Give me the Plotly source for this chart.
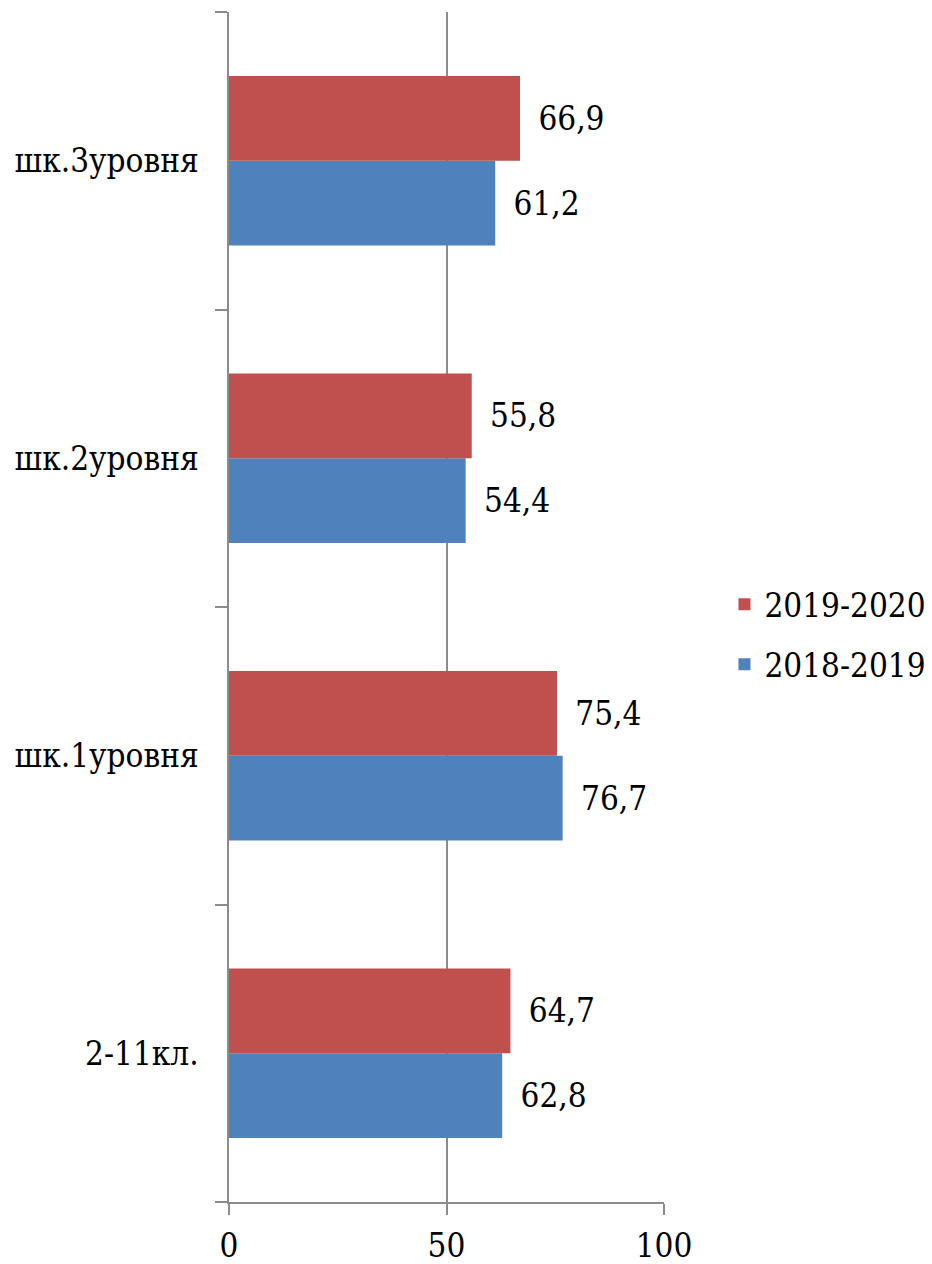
import plotly.graph_objects as go

categories = ["2-11кл.", "шк.1уровня", "шк.2уровня", "шк.3уровня"]
vals_2018_2019 = [62.8, 76.7, 54.4, 61.2]
vals_2019_2020 = [64.7, 75.4, 55.8, 66.9]
x_ticks = [0, 50, 100]

FONT = "DejaVu Serif Condensed"
FS = 33

fig = go.Figure()
fig.add_trace(go.Bar(
    y=categories, x=vals_2018_2019, orientation="h", name="2018-2019",
    legendgroup="g2", legendrank=2,
    marker=dict(color="#4F81BD", line=dict(width=0)),
    texttemplate=" \u2009%{x:.1f}", textposition="outside", cliponaxis=False,
    textfont=dict(family=FONT, size=FS, color="black"),
))
fig.add_trace(go.Bar(
    y=categories, x=vals_2019_2020, orientation="h", name="2019-2020",
    legendgroup="g1", legendrank=1,
    marker=dict(color="#C0504D", line=dict(width=0)),
    texttemplate=" \u2009%{x:.1f}", textposition="outside", cliponaxis=False,
    textfont=dict(family=FONT, size=FS, color="black"),
))

fig.update_layout(
    width=932, height=1264,
    margin=dict(l=229, r=268, t=12, b=62, autoexpand=False),
    paper_bgcolor="white", plot_bgcolor="white",
    barmode="group", bargap=0.43, bargroupgap=0,
    separators=", ",
    font=dict(family=FONT, size=FS, color="black"),
    showlegend=True,
    legend=dict(
        x=1.139, y=0.477, xanchor="left", yanchor="middle",
        traceorder="grouped", font=dict(family=FONT, size=FS, color="black"),
        itemsizing="constant", tracegroupgap=14,
    ),
    uniformtext=dict(minsize=FS, mode="show"),
)
fig.update_xaxes(
    range=[0, 100], tickvals=x_ticks, ticktext=[str(v) for v in x_ticks],
    showgrid=True, gridcolor="#8C8C8C", gridwidth=1.5,
    showline=True, linecolor="#8C8C8C", linewidth=1.5,
    ticks="outside", ticklen=11, tickcolor="#8C8C8C", tickwidth=1.5,
    ticklabelstandoff=3,
    tickfont=dict(family=FONT, size=FS, color="black"),
    zeroline=False, fixedrange=True, automargin=False,
)
fig.update_yaxes(
    type="category", categoryorder="array", categoryarray=categories,
    showgrid=False, showline=True, linecolor="#8C8C8C", linewidth=1.5,
    ticks="outside", ticklen=12, tickcolor="#8C8C8C", tickwidth=1.5,
    tickson="boundaries", ticklabelstandoff=22,
    tickfont=dict(family=FONT, size=FS, color="black"),
    fixedrange=True, automargin=False,
)

fig.write_html("out.html", config={"displayModeBar": False},
               post_script="document.body.style.margin='0';document.body.style.overflow='hidden';")
